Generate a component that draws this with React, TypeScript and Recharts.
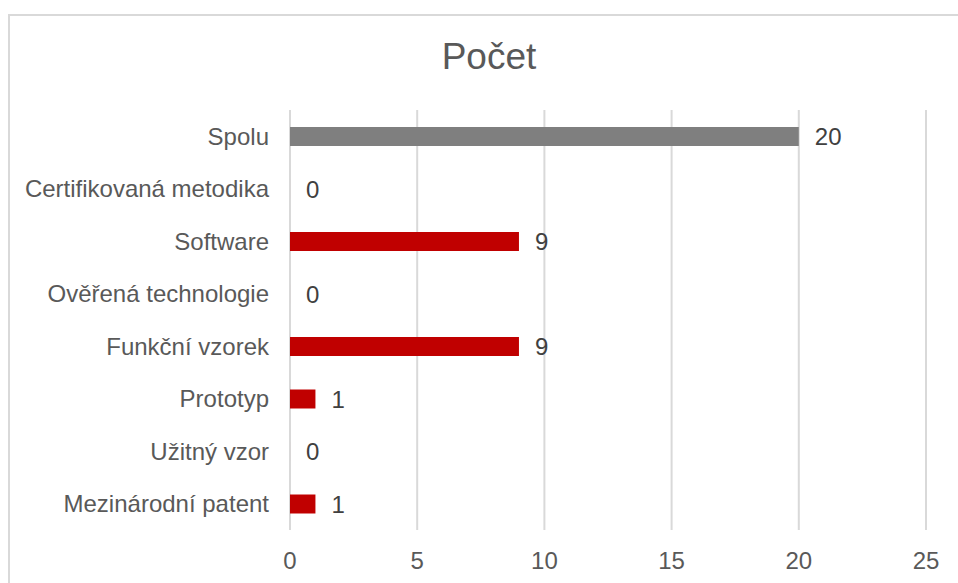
import { BarChart, Bar, XAxis, YAxis, CartesianGrid, Cell, LabelList } from 'recharts'

const categories = [
  'Spolu',
  'Certifikovaná metodika',
  'Software',
  'Ověřená technologie',
  'Funkční vzorek',
  'Prototyp',
  'Užitný vzor',
  'Mezinárodní patent',
]
const counts = [20, 0, 9, 0, 9, 1, 0, 1]
const barColors = ['#7f7f7f', '#c00000', '#c00000', '#c00000', '#c00000', '#c00000', '#c00000', '#c00000']
const xTicks = [0, 5, 10, 15, 20, 25]

const data = categories.map((name, i) => ({ name, value: counts[i] }))

const FONT = 'Arial, "Liberation Sans", sans-serif'

export default function App() {
  return (
    <div style={{ position: 'absolute', left: 0, top: 0, width: 958, height: 583, background: '#fff', overflow: 'hidden', fontFamily: FONT }}>
      <div style={{ position: 'absolute', left: 8, top: 14, width: 960, height: 600, border: '2px solid #d9d9d9', boxSizing: 'border-box' }} />
      <div style={{ position: 'absolute', left: 0, width: 978, top: 36, textAlign: 'center', fontSize: 37, color: '#595959' }}>Počet</div>
      <BarChart
        width={958}
        height={583}
        data={data}
        layout="vertical"
        margin={{ top: 110, right: 32, bottom: 23, left: 20 }}
        barSize={19}
        style={{ position: 'absolute', left: 0, top: 0 }}
      >
        <CartesianGrid horizontal={false} stroke="#d9d9d9" strokeWidth={2} />
        <XAxis
          type="number"
          domain={[0, 25]}
          ticks={xTicks}
          axisLine={false}
          tickLine={false}
          tickSize={0}
          tickMargin={22}
          height={30}
          tick={{ fill: '#595959', fontSize: 24, fontFamily: FONT }}
        />
        <YAxis
          type="category"
          dataKey="name"
          width={270}
          axisLine={false}
          tickLine={false}
          tickSize={0}
          tickMargin={21}
          tick={{ fill: '#595959', fontSize: 24, fontFamily: FONT }}
        />
        <Bar dataKey="value" minPointSize={0.01} isAnimationActive={false}>
          {data.map((d, i) => (
            <Cell key={d.name} fill={barColors[i]} />
          ))}
          <LabelList dataKey="value" position="right" offset={16} fill="#404040" fontSize={24} fontFamily={FONT} />
        </Bar>
      </BarChart>
    </div>
  )
}
